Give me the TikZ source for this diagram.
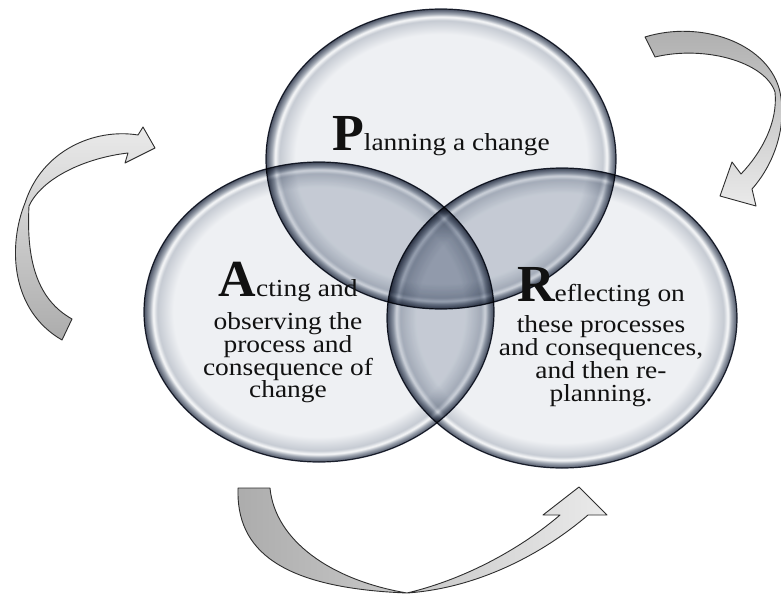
\documentclass[tikz,border=0pt]{standalone}
\usepackage{fontspec}
\setmainfont{Liberation Serif}
\newfontfamily\bodyfont[FakeStretch=1.12]{Liberation Serif}
\usetikzlibrary{shapes.geometric}
\definecolor{bubC}{HTML}{EEF0F3}
\definecolor{bubM}{HTML}{C6CBD3}
\definecolor{bubH}{HTML}{F8F9FA}
\definecolor{bubN}{HTML}{A3AAB5}
\definecolor{bubD}{HTML}{4A5264}
\definecolor{lensc}{HTML}{E3E6EB}
\definecolor{rimline}{HTML}{2A3040}
\definecolor{arrD}{HTML}{ACACAC}
\definecolor{arrL}{HTML}{EAEAEA}
\definecolor{arrline}{HTML}{2E2E2E}
\definecolor{txtc}{HTML}{111111}
\pgfdeclareradialshading{bubble}{\pgfpoint{0bp}{0bp}}{color(0bp)=(bubC); color(20.8bp)=(bubC); color(23.1bp)=(bubM); color(23.7bp)=(bubH); color(24.2bp)=(bubN); color(25bp)=(bubD); color(50bp)=(bubD)}
\newcommand\bigini[1]{{\fontsize{52}{52}\selectfont\rmfamily\bfseries #1}}
\tikzset{
  bubblebox/.style={ellipse, minimum width=350pt, minimum height=300pt, inner sep=0pt,
    shading=bubble, draw=rimline, line width=1.2pt},
  bodytext/.style={text=txtc, inner sep=0pt, align=center,
    font={\bodyfont\fontsize{24.5}{22.8}\selectfont\lineskiplimit=-100pt}},
  blockarrow/.style={draw=arrline, line width=0.9pt, line join=round}
}
\begin{document}
\begin{tikzpicture}[x=1pt,y=-1pt]
\useasboundingbox (0,0) rectangle (781,594);
\fill[white] (0,0) rectangle (781,594);
\begin{scope}[blend group=multiply]
  \node[bubblebox] (P) at (441,159) {};
  \node[bubblebox] (A) at (319,312) {};
  \node[bubblebox] (R) at (562,318) {};
  \begin{scope}
    \clip (P.center) ellipse [x radius=175pt, y radius=150pt];
    \fill[lensc] (A.center) ellipse [x radius=175pt, y radius=150pt];
    \fill[lensc] (R.center) ellipse [x radius=175pt, y radius=150pt];
  \end{scope}
  \begin{scope}
    \clip (A.center) ellipse [x radius=175pt, y radius=150pt];
    \fill[lensc] (R.center) ellipse [x radius=175pt, y radius=150pt];
  \end{scope}
\end{scope}
% texts
\node[bodytext, anchor=base] (Ptext) at (441,150) {\bigini{P}lanning a change};
\node[bodytext, anchor=north] (Atext) at (288,262) {\bigini{A}cting and\\[10.2pt] observing the\\ process and\\ consequence of\\ change};
\node[bodytext, anchor=north] (Rtext) at (601,267) {\bigini{R}eflecting on\\[8.7pt] these processes\\ and consequences,\\ and then re-\\ planning.};
% left arrow
\path[blockarrow, bottom color=arrD, top color=arrL]
  (72,319) .. controls (38,300) and (26,262) .. (29,206)
  .. controls (42,178) and (85,158) .. (128,153)
  -- (125,163) -- (155,148) -- (143,127) -- (138,135)
  .. controls (95,128) and (42,150) .. (25,203)
  .. controls (8,245) and (10,310) .. (62,340) -- cycle;
% right arrow
\path[blockarrow, top color=arrD, bottom color=arrL]
  (645,37) .. controls (700,20) and (765,42) .. (779,88)
  .. controls (788,122) and (776,162) .. (752,189)
  -- (756,206) -- (720,196) -- (732,162) -- (741,174)
  .. controls (762,152) and (778,122) .. (775,92)
  .. controls (765,62) and (705,45) .. (655,57) -- cycle;
% bottom arrow
\path[blockarrow, left color=arrD, right color=arrL]
  (238,488) .. controls (236,550) and (280,588) .. (407,593)
  .. controls (480,588) and (545,552) .. (588,515)
  -- (607,515) -- (579,487) -- (543,515) -- (560,515)
  .. controls (525,545) and (470,578) .. (407,593)
  .. controls (330,580) and (275,540) .. (270,488) -- cycle;
\end{tikzpicture}
\end{document}
